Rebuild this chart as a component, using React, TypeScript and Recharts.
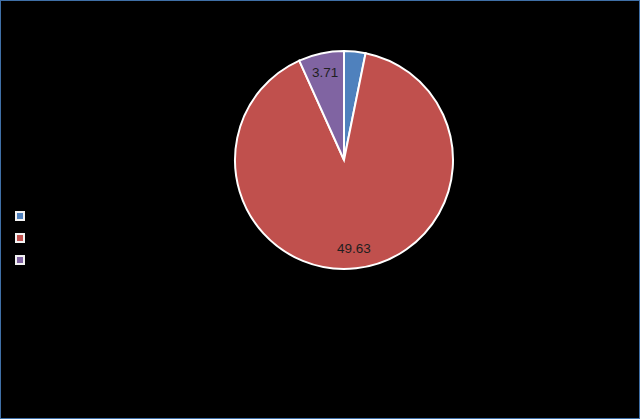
import React from "react";
import { PieChart, Pie, Cell, Legend } from "recharts";

// slice order runs clockwise from 12 o'clock
const sliceNames = ["Series 1", "Series 2", "Series 3"];
const sliceValues = [1.75, 49.63, 3.71];
const showLabel = [false, true, true];

const COLORS = ["#4f81bd", "#c0504d", "#8064a2"];

const data = sliceNames.map((name, i) => ({
  name,
  value: sliceValues[i],
  color: COLORS[i],
}));

const RADIAN = Math.PI / 180;

const renderLabel = ({ cx, cy, midAngle, outerRadius, index, value }: any) => {
  if (!showLabel[index]) return null;
  const r = outerRadius * 0.82;
  const x = cx + r * Math.cos(-midAngle * RADIAN);
  const y = cy + r * Math.sin(-midAngle * RADIAN);
  return (
    <text
      x={x}
      y={y}
      textAnchor="middle"
      dominantBaseline="central"
      fill="#1f1f1f"
      fontSize={13.5}
      fontFamily="Liberation Sans, Arial, sans-serif"
    >
      {value}
    </text>
  );
};

const LegendContent = () => (
  <div style={{ display: "flex", flexDirection: "column", gap: 12 }}>
    {data.map((d) => (
      <div
        key={d.name}
        style={{
          width: 6,
          height: 6,
          background: d.color,
          border: "2px solid #f2f2f2",
        }}
      />
    ))}
  </div>
);

export default function App() {
  return (
    <div
      style={{
        position: "fixed",
        left: 0,
        top: 0,
        width: 640,
        height: 419,
        boxSizing: "border-box",
        background: "#000",
        border: "1px solid #3f6fa6",
      }}
    >
      <PieChart width={638} height={417} margin={{ top: 0, right: 0, bottom: 0, left: 0 }}>
        <Pie
          data={data}
          dataKey="value"
          nameKey="name"
          cx={343}
          cy={159}
          outerRadius={109}
          startAngle={90}
          endAngle={-270}
          stroke="#ffffff"
          strokeWidth={2}
          label={renderLabel}
          labelLine={false}
          isAnimationActive={false}
        >
          {data.map((d) => (
            <Cell key={d.name} fill={d.color} />
          ))}
        </Pie>
        <Legend
          content={<LegendContent />}
          wrapperStyle={{ left: 14, top: 210, width: 12 }}
        />
      </PieChart>
    </div>
  );
}
